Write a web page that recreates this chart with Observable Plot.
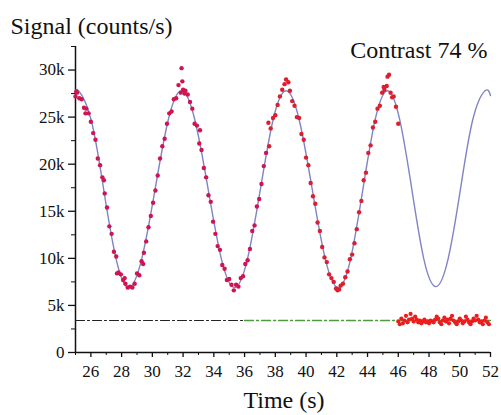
<!DOCTYPE html>
<html><head><meta charset="utf-8">
<script src="https://cdn.jsdelivr.net/npm/d3@7"></script>
<script src="https://cdn.jsdelivr.net/npm/@observablehq/plot@0.6"></script>
<style>
body{margin:0;background:#fff;width:501px;height:415px;overflow:hidden}
</style></head><body>
<div id="chart"></div>
<script>
// measured signal (time in s, counts in k/s)
const sigTime = [25.0,25.05,25.1,25.25,25.4,25.55,25.65,25.7,25.85,26.0,26.15,26.3,26.45,26.6,26.75,26.85,26.9,27.05,27.2,27.35,27.5,27.65,27.7,27.8,27.95,28.1,28.2,28.25,28.4,
28.55,28.7,28.85,29.0,29.15,29.3,29.4,29.45,29.6,29.75,29.9,30.05,30.2,30.35,30.5,30.65,30.8,30.95,31.1,31.25,31.4,31.55,31.7,31.85,31.9,31.95,
32.0,32.1,32.15,32.3,32.45,32.6,32.75,32.9,33.05,33.1,33.2,33.35,33.5,33.65,33.8,33.95,34.1,34.25,34.4,34.55,34.7,34.85,35.0,35.15,35.3,
35.45,35.6,35.75,35.9,36.05,36.2,36.35,36.5,36.65,36.8,36.95,37.1,37.25,37.4,37.55,37.6,37.7,37.85,38.0,38.15,38.3,38.45,38.6,38.7,38.85,
38.95,39.1,39.25,39.4,39.55,39.7,39.85,40.0,40.15,40.3,40.45,40.6,40.75,40.9,41.05,41.2,41.35,41.5,41.65,41.8,41.95,42.05,
42.15,42.25,42.4,42.55,42.7,42.85,43.0,43.15,43.3,43.45,43.6,43.75,43.9,44.05,44.2,44.35,44.5,44.65,44.8,44.95,45.05,45.1,45.25,45.3,45.4,45.5,45.6,45.7,45.85,46.0];
const sigCounts = [27.2,27.7,27.6,27.0,26.9,26.0,25.4,25.9,25.4,24.5,23.3,22.6,20.6,19.9,18.6,18.3,16.9,15.4,13.4,12.6,10.7,10.2,8.4,8.5,8.3,7.7,7.9,7.3,6.9,
7.0,6.9,7.3,8.4,8.2,9.7,9.4,10.6,11.8,13.3,14.5,15.9,17.2,18.8,20.6,21.9,22.7,24.3,25.4,25.6,26.9,27.0,28.4,27.6,30.2,28.8,
27.9,27.5,27.8,27.4,26.6,25.9,24.3,24.1,22.2,23.6,21.5,19.6,18.6,16.7,16.0,13.9,12.6,11.3,10.9,9.3,8.9,7.7,7.8,7.2,6.6,
7.2,7.0,7.9,8.1,9.4,9.8,11.0,12.9,13.5,15.5,16.3,17.9,19.8,21.2,24.4,21.9,23.8,24.9,25.2,26.3,27.2,27.9,28.5,29.0,28.7,
27.8,26.7,26.2,25.0,24.9,23.2,22.6,20.7,19.9,18.0,16.6,15.8,13.8,12.9,11.2,10.1,9.6,8.3,7.9,7.5,6.8,6.6,
6.7,7.1,7.3,8.0,8.6,9.9,10.4,11.6,13.1,14.9,16.1,18.3,19.1,21.2,22.0,23.9,24.5,25.9,26.2,27.6,28.2,27.9,28.3,29.3,29.5,27.6,27.1,27.2,26.1,24.3];

// background (beam blocked)
const bgTime = [46.0,46.1,46.2,46.3,46.4,46.5,46.6,46.7,46.8,46.9,47.0,47.1,47.2,47.3,47.4,47.5,47.6,47.7,47.8,47.9,48.0,48.1,48.2,48.3,48.4,48.5,48.6,48.7,48.8,48.9,
49.0,49.1,49.2,49.3,49.4,49.5,49.6,49.7,49.8,49.9,50.0,50.1,50.2,50.3,50.4,50.5,50.6,50.7,50.8,50.9,51.0,51.1,51.2,51.3,51.4,51.5,51.6,51.7,51.8,51.9];
const bgCounts = [3.3,3.0,3.6,3.1,3.4,3.9,3.2,3.5,4.1,3.6,3.3,3.8,3.5,3.2,3.4,3.1,3.3,3.5,3.2,3.3,3.1,3.4,3.3,3.2,3.5,3.8,3.6,3.2,3.0,3.4,
3.7,3.3,3.5,3.1,3.6,3.9,3.4,3.2,3.0,3.3,3.6,3.4,3.1,3.3,3.8,3.5,3.2,3.0,3.3,3.6,3.4,3.9,3.5,3.2,3.3,3.0,3.4,3.7,3.2,3.0];

// fitted sinusoid (read at extrema and quarter points)
const fitTime = [25.0,25.2,26.01,26.83,27.64,28.45,29.31,30.18,31.04,31.9,32.76,33.63,34.49,35.35,36.19,37.03,37.86,38.7,39.55,40.4,41.25,42.1,42.9,43.7,44.5,45.3,46.09,46.88,47.66,48.45,49.25,50.05,50.85,51.65,52.0];
const fitCounts = [27.6,27.8,24.75,17.35,9.95,6.9,9.95,17.35,24.75,27.8,24.75,17.35,9.95,6.9,9.95,17.35,24.75,27.8,24.75,17.35,9.95,6.9,9.95,17.35,24.75,27.8,24.75,17.35,9.95,7.0,10.0,17.4,24.75,27.8,27.3];

// background level line (dash-dot)
const bgLineBlackTime = [25, 36];
const bgLineGreenTime = [36, 52];
const bgLevel = 3.4;

const xMajor = [26,28,30,32,34,36,38,40,42,44,46,48,50,52];
const xMinor = [25,27,29,31,33,35,37,39,41,43,45,47,49,51];
const yMajor = [0,5,10,15,20,25,30];
const yMinor = [2.5,7.5,12.5,17.5,22.5,27.5,32.5];
const xDomain = [25, 52];
const yDomain = [0, 32.5];

const sig = sigTime.map((t, i) => ({t, c: sigCounts[i]}));
const bg = bgTime.map((t, i) => ({t, c: bgCounts[i]}));
const fit = fitTime.map((t, i) => ({t, c: fitCounts[i]}));
const lineBlack = bgLineBlackTime.map(t => ({t, c: bgLevel}));
const lineGreen = bgLineGreenTime.map(t => ({t, c: bgLevel}));

const ink = "#111";
const plot = Plot.plot({
  width: 501, height: 415,
  marginLeft: 75, marginRight: 11, marginTop: 46, marginBottom: 63,
  style: {fontFamily: "'Liberation Serif', serif", fontSize: "17px", color: ink, background: "#fff"},
  x: {domain: xDomain},
  y: {domain: yDomain},
  marks: [
    Plot.ruleX([xDomain[0]], {y1: yDomain[0], y2: yDomain[1], stroke: ink, strokeWidth: 1.5}),
    Plot.ruleY([yDomain[0]], {x1: xDomain[0], x2: xDomain[1], stroke: ink, strokeWidth: 1.5}),
    Plot.axisY(yMajor, {tickSize: 7, tickPadding: 4, strokeWidth: 1.3, tickFormat: d => d === 0 ? "0" : d + "k", label: null}),
    Plot.axisY(yMinor, {tickSize: 4, fill: "none", label: null}),
    Plot.axisX(xMajor, {tickSize: 5, tickPadding: 7, strokeWidth: 1.3, label: null}),
    Plot.axisX(xMinor, {tickSize: 3, fill: "none", label: null}),
    Plot.line(lineBlack, {x: "t", y: "c", stroke: "#222", strokeWidth: 1.2, strokeDasharray: "9,3,2,3"}),
    Plot.line(lineGreen, {x: "t", y: "c", stroke: "#4f9a3c", strokeWidth: 1.3, strokeDasharray: "9,3,2,3"}),
    Plot.line(fit, {x: "t", y: "c", curve: "natural", stroke: "#7f84c6", strokeWidth: 1.4}),
    Plot.dot(sig, {x: "t", y: "c", r: 2.2, fill: d => d.t < 37.5 ? "#cf1450" : "#dc1f2e", stroke: "none"}),
    Plot.dot(bg, {x: "t", y: "c", r: 2.1, fill: "#ee1c1c", stroke: "none"}),
    Plot.text(["Signal (counts/s)"], {frameAnchor: "top-left", textAnchor: "start", lineAnchor: "bottom", dx: -65, dy: -13, fontSize: 24, fill: ink}),
    Plot.text(["Contrast 74 %"], {frameAnchor: "top-right", textAnchor: "end", lineAnchor: "bottom", dx: -3, dy: 11, fontSize: 24, fill: ink}),
    Plot.text(["Time (s)"], {frameAnchor: "bottom", textAnchor: "middle", lineAnchor: "bottom", dx: 1, dy: 55, fontSize: 24, fill: ink})
  ]
});
document.getElementById("chart").appendChild(plot);
</script>
</body></html>
